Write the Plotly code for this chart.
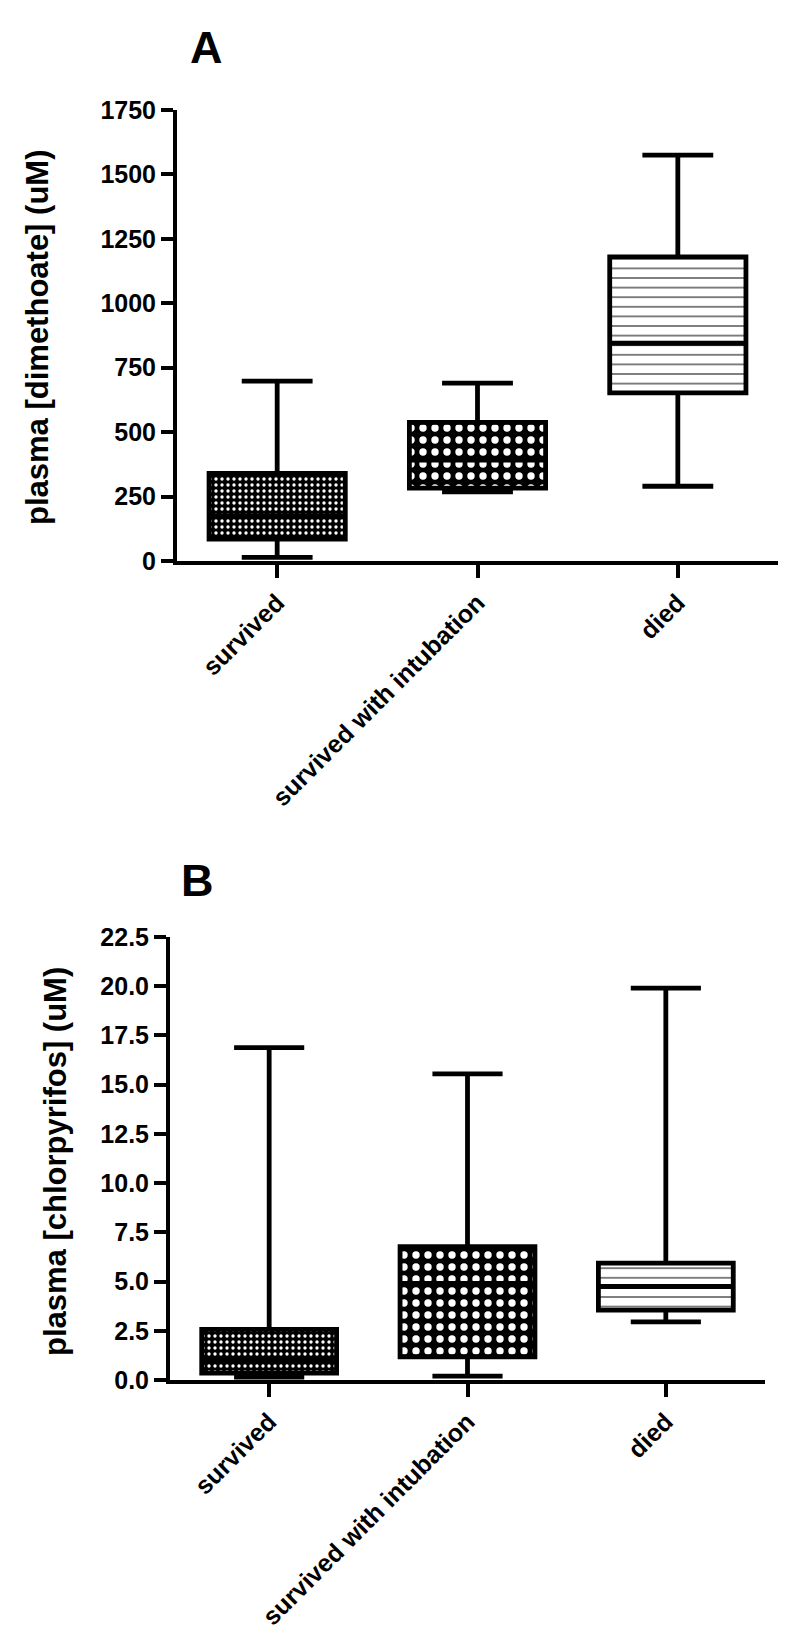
import plotly.graph_objects as go

categories = ["survived", "survived with intubation", "died"]

# Panel A: plasma [dimethoate] (uM)
a_low = [14, 268, 290]
a_q1 = [85, 283, 652]
a_med = [176, 392, 845]
a_q3 = [340, 538, 1180]
a_high = [698, 690, 1575]
a_ticks = [0, 250, 500, 750, 1000, 1250, 1500, 1750]

# Panel B: plasma [chlorpyrifos] (uM)
b_low = [0.15, 0.2, 2.95]
b_q1 = [0.35, 1.18, 3.55]
b_med = [1.0, 4.9, 4.75]
b_q3 = [2.57, 6.77, 5.94]
b_high = [16.88, 15.55, 19.9]
b_ticks = [0, 2.5, 5.0, 7.5, 10.0, 12.5, 15.0, 17.5, 20.0, 22.5]

FONT = "Liberation Sans, Arial, Helvetica, sans-serif"
BOX_W = 0.68

pat_shapes = [".", ".", "-"]
pat_fg = ["white", "white", "#333333"]
pat_bg = ["black", "black", "white"]
pat_size = [6, 12, 9.6]
pat_sol = [0.25, 0.3, 0.14]

fig = go.Figure()


def add_panel(low, q1, med, q3, high, xa, ya):
    fig.add_trace(go.Bar(
        x=categories,
        base=q1,
        y=[b - a for a, b in zip(q1, q3)],
        width=BOX_W,
        marker=dict(
            color=pat_bg,
            line=dict(width=0),
            pattern=dict(shape=pat_shapes, fgcolor=pat_fg, bgcolor=pat_bg,
                         size=pat_size, solidity=pat_sol, fillmode="overlay",
                         fgopacity=1),
        ),
        xaxis=xa, yaxis=ya, showlegend=False, hoverinfo="skip",
    ))
    fig.add_trace(go.Box(
        x=categories,
        q1=q1, median=med, q3=q3, lowerfence=low, upperfence=high,
        width=BOX_W, whiskerwidth=0.52,
        line=dict(color="black", width=4.8),
        fillcolor="rgba(0,0,0,0)",
        boxpoints=False,
        xaxis=xa, yaxis=ya, showlegend=False,
    ))


add_panel(a_low, a_q1, a_med, a_q3, a_high, "x", "y")
add_panel(b_low, b_q1, b_med, b_q3, b_high, "x2", "y2")

H = 1639.0
W = 794.0

common_x = dict(
    type="category", range=[-0.5, 2.5], showline=True, linecolor="black", linewidth=4,
    ticks="outside", ticklen=13, tickwidth=4, tickcolor="black", tickangle=-45,
    showgrid=False, zeroline=False, automargin=False,
    tickfont=dict(family=FONT, size=25, color="black", weight="bold"),
)
common_y = dict(
    showline=True, linecolor="black", linewidth=4,
    ticks="outside", ticklen=12, tickwidth=4, tickcolor="black",
    showgrid=False, zeroline=False, automargin=False,
    tickfont=dict(family=FONT, size=25, color="black", weight="bold"),
)

ann_font = dict(family=FONT, color="black", weight="bold")

fig.update_layout(
    width=794, height=1639,
    margin=dict(l=0, r=0, t=0, b=0, pad=0),
    paper_bgcolor="white", plot_bgcolor="white",
    barmode="overlay", boxmode="overlay",
    xaxis=dict(domain=[177 / W, 778 / W], anchor="y", **common_x),
    yaxis=dict(domain=[(H - 561) / H, (H - 110) / H], anchor="x", range=[0, 1750],
               tickvals=a_ticks, **common_y),
    xaxis2=dict(domain=[170 / W, 765 / W], anchor="y2", **common_x),
    yaxis2=dict(domain=[(H - 1380) / H, (H - 937) / H], anchor="x2", range=[0, 22.5],
                tickvals=b_ticks, tickformat=".1f", **common_y),
    annotations=[
        dict(text="A", x=206 / W, y=(H - 47) / H, xref="paper", yref="paper",
             xanchor="center", yanchor="middle",
             showarrow=False, font=dict(size=45, **ann_font)),
        dict(text="B", x=197 / W, y=(H - 880) / H, xref="paper", yref="paper",
             xanchor="center", yanchor="middle",
             showarrow=False, font=dict(size=45, **ann_font)),
        dict(text="plasma [dimethoate] (uM)", x=38 / W, y=(H - 338) / H,
             xref="paper", yref="paper", xanchor="center", yanchor="middle",
             textangle=-90, showarrow=False, font=dict(size=31, **ann_font)),
        dict(text="plasma [chlorpyrifos] (uM)", x=55 / W, y=(H - 1162) / H,
             xref="paper", yref="paper", xanchor="center", yanchor="middle",
             textangle=-90, showarrow=False, font=dict(size=31, **ann_font)),
    ],
)

fig.write_html(
    "out.html",
    config={"displayModeBar": False},
    post_script="document.body.style.margin='0';document.body.style.padding='0';",
)
